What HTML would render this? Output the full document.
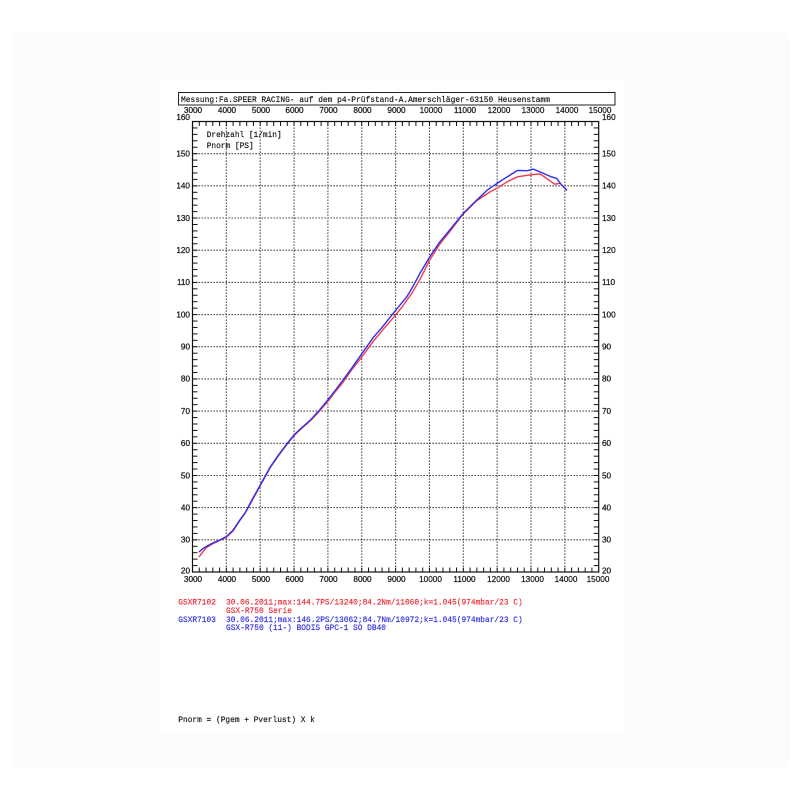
<!DOCTYPE html>
<html><head><meta charset="utf-8"><style>
html,body{margin:0;padding:0;background:#fff;}
svg{display:block;}
text{font-family:"Liberation Mono",monospace;fill:#1a1a1a;stroke:#1a1a1a;stroke-width:0.2px;}
.n{font-family:"Liberation Sans",sans-serif;font-size:8.2px;fill:#1a1a1a;stroke:#1a1a1a;stroke-width:0.25px;}
</style></head><body>
<svg width="800" height="800" viewBox="0 0 800 800" xmlns="http://www.w3.org/2000/svg">
<defs>
<pattern id="tx" x="192" y="0" width="6.77" height="800" patternUnits="userSpaceOnUse"><rect x="0" y="0" width="1" height="800" fill="#111"/></pattern>
<pattern id="ty" x="0" y="121" width="800" height="6.436" patternUnits="userSpaceOnUse"><rect x="0" y="0" width="800" height="1" fill="#111"/></pattern>
</defs>
<rect x="12" y="33" width="778" height="734" fill="#fcfcfc"/>
<rect x="160" y="80" width="464" height="653" fill="#ffffff"/>

<!-- title box -->
<rect x="178.5" y="92.5" width="436.5" height="12.5" fill="none" stroke="#222" stroke-width="1"/>
<text x="181" y="102" font-size="8.6" textLength="369" lengthAdjust="spacingAndGlyphs">Messung:Fa.SPEER RACING- auf dem p4-Prüfstand-A.Amerschläger-63150 Heusenstamm</text>

<!-- gridlines -->
<g stroke="#222" stroke-width="1.1" stroke-dasharray="1.3 1.7" fill="none">
<path d="M226.35 121.5V572M260.2 121.5V572M294.05 121.5V572M327.9 121.5V572M361.75 121.5V572M395.6 121.5V572M429.45 121.5V572M463.3 121.5V572M497.15 121.5V572M531 121.5V572M564.85 121.5V572"/>
<path d="M192.5 539.8H598.7M192.5 507.6H598.7M192.5 475.5H598.7M192.5 443.3H598.7M192.5 411.1H598.7M192.5 378.9H598.7M192.5 346.7H598.7M192.5 314.6H598.7M192.5 282.4H598.7M192.5 250.2H598.7M192.5 218H598.7M192.5 185.8H598.7M192.5 153.7H598.7"/>
</g>

<!-- ticks -->
<rect x="192" y="121.5" width="407" height="4.5" fill="url(#tx)"/>
<rect x="192" y="567.5" width="407" height="4.5" fill="url(#tx)"/>
<rect x="192.5" y="121" width="5" height="452" fill="url(#ty)"/>
<rect x="593.7" y="121" width="5" height="452" fill="url(#ty)"/>

<!-- frame -->
<rect x="192.5" y="121.5" width="406.2" height="450.5" fill="none" stroke="#111" stroke-width="1.2"/>

<!-- top labels -->
<g text-anchor="middle">
<text class="n" x="193" y="113">3000</text>
<text class="n" x="227" y="113">4000</text>
<text class="n" x="261" y="113">5000</text>
<text class="n" x="294.5" y="113">6000</text>
<text class="n" x="328.5" y="113">7000</text>
<text class="n" x="362.5" y="113">8000</text>
<text class="n" x="396.5" y="113">9000</text>
<text class="n" x="431" y="113">10000</text>
<text class="n" x="465" y="113">11000</text>
<text class="n" x="499" y="113">12000</text>
<text class="n" x="533" y="113">13000</text>
<text class="n" x="567" y="113">14000</text>
<text class="n" x="600" y="113">15000</text>
</g>
<!-- bottom labels -->
<g text-anchor="middle">
<text class="n" x="193" y="582">3000</text>
<text class="n" x="227" y="582">4000</text>
<text class="n" x="261" y="582">5000</text>
<text class="n" x="294.5" y="582">6000</text>
<text class="n" x="328.5" y="582">7000</text>
<text class="n" x="362.5" y="582">8000</text>
<text class="n" x="396.5" y="582">9000</text>
<text class="n" x="430.5" y="582">10000</text>
<text class="n" x="464.5" y="582">11000</text>
<text class="n" x="498.5" y="582">12000</text>
<text class="n" x="532.5" y="582">13000</text>
<text class="n" x="566" y="582">14000</text>
<text class="n" x="598" y="582">15000</text>
</g>
<!-- left labels -->
<g text-anchor="end">
<text class="n" x="190" y="120">160</text>
<text class="n" x="190" y="156.5">150</text>
<text class="n" x="190" y="188.6">140</text>
<text class="n" x="190" y="220.8">130</text>
<text class="n" x="190" y="253">120</text>
<text class="n" x="190" y="285.2">110</text>
<text class="n" x="190" y="317.4">100</text>
<text class="n" x="190" y="349.5">90</text>
<text class="n" x="190" y="381.7">80</text>
<text class="n" x="190" y="413.9">70</text>
<text class="n" x="190" y="446.1">60</text>
<text class="n" x="190" y="478.3">50</text>
<text class="n" x="190" y="510.4">40</text>
<text class="n" x="190" y="542.6">30</text>
<text class="n" x="190" y="573.5">20</text>
</g>
<!-- right labels -->
<g>
<text class="n" x="602" y="120">160</text>
<text class="n" x="602" y="156.5">150</text>
<text class="n" x="602" y="188.6">140</text>
<text class="n" x="602" y="220.8">130</text>
<text class="n" x="602" y="253">120</text>
<text class="n" x="602" y="285.2">110</text>
<text class="n" x="602" y="317.4">100</text>
<text class="n" x="602" y="349.5">90</text>
<text class="n" x="602" y="381.7">80</text>
<text class="n" x="602" y="413.9">70</text>
<text class="n" x="602" y="446.1">60</text>
<text class="n" x="602" y="478.3">50</text>
<text class="n" x="602" y="510.4">40</text>
<text class="n" x="602" y="542.6">30</text>
<text class="n" x="602" y="573.5">20</text>
</g>

<!-- in-plot labels -->
<text x="206.7" y="137" font-size="8.6" textLength="75" lengthAdjust="spacingAndGlyphs">Drehzahl [1/min]</text>
<text x="206.7" y="148" font-size="8.6" textLength="47" lengthAdjust="spacingAndGlyphs">Pnorm [PS]</text>

<!-- curves (data coords: x in 1000 rpm, y in PS) -->
<g transform="matrix(33.85 0 0 -3.218 90.95 636.36)" fill="none" stroke-linejoin="round" stroke-linecap="round">
<polyline vector-effect="non-scaling-stroke" stroke="#ee3a50" stroke-width="1.4" points="3.2,24.8 3.4,27.5 3.6,28.8 3.8,29.8 4.0,30.8 4.2,32.8 4.4,36.0 4.55,38.2 4.7,41.0 5.0,46.8 5.3,52.5 5.55,56.3 5.8,59.8 6.0,62.4 6.2,64.4 6.5,67.2 6.75,70.0 7.0,73.0 7.2,75.8 7.45,79.0 7.7,82.8 8.0,86.8 8.35,91.8 8.6,95.0 8.93,99.0 9.2,102.5 9.48,106.6 9.75,111.5 10.0,116.8 10.3,121.8 10.6,125.8 11.0,131.3 11.4,135.4 11.8,138.2 12.0,139.3 12.3,141.3 12.6,142.8 12.97,143.4 13.27,143.7 13.46,142.3 13.7,140.5 13.86,140.8 14.05,138.7"/>
<polyline vector-effect="non-scaling-stroke" stroke="#2f2fe6" stroke-width="1.4" points="3.2,26.3 3.3,27.2 3.4,27.9 3.6,29.0 3.8,29.9 4.0,31.0 4.2,33.0 4.4,36.2 4.55,38.3 4.7,41.3 5.0,47.0 5.3,52.7 5.55,56.5 5.8,60.0 6.0,62.6 6.2,64.6 6.5,67.4 6.75,70.3 7.0,73.5 7.2,76.2 7.45,79.7 7.7,83.3 8.0,87.8 8.35,93.0 8.6,96.0 8.93,100.4 9.33,105.5 9.5,108.5 9.72,112.8 10.0,117.8 10.3,122.5 10.6,126.3 11.0,131.5 11.4,135.6 11.7,138.6 12.0,140.8 12.3,142.8 12.6,144.8 12.9,144.7 13.07,145.2 13.2,144.6 13.36,143.9 13.6,142.8 13.76,142.3 13.9,140.3 14.05,138.7"/>
</g>

<!-- legend -->
<g font-size="8.6">
<text x="178.3" y="604.5" style="fill:#e8303c;stroke:#e8303c" textLength="37.6" lengthAdjust="spacingAndGlyphs">GSXR7102</text>
<text x="226" y="604.5" style="fill:#e8303c;stroke:#e8303c" textLength="296.7" lengthAdjust="spacingAndGlyphs">30.06.2011;max:144.7PS/13240;84.2Nm/11060;k=1.045(974mbar/23 C)</text>
<text x="226" y="612.8" style="fill:#e8303c;stroke:#e8303c" textLength="65.9" lengthAdjust="spacingAndGlyphs">GSX-R750 Serie</text>
<text x="178.3" y="621.8" style="fill:#3535e0;stroke:#3535e0" textLength="37.6" lengthAdjust="spacingAndGlyphs">GSXR7103</text>
<text x="226" y="621.8" style="fill:#3535e0;stroke:#3535e0" textLength="296.7" lengthAdjust="spacingAndGlyphs">30.06.2011;max:146.2PS/13062;84.7Nm/10972;k=1.045(974mbar/23 C)</text>
<text x="226" y="630" style="fill:#3535e0;stroke:#3535e0" textLength="160" lengthAdjust="spacingAndGlyphs">GSX-R750 (11-) BODIS GPC-1 SO DB40</text>
<text x="178.3" y="722" textLength="136.6" lengthAdjust="spacingAndGlyphs">Pnorm = (Pgem + Pverlust) X k</text>
</g>
</svg>
</body></html>
